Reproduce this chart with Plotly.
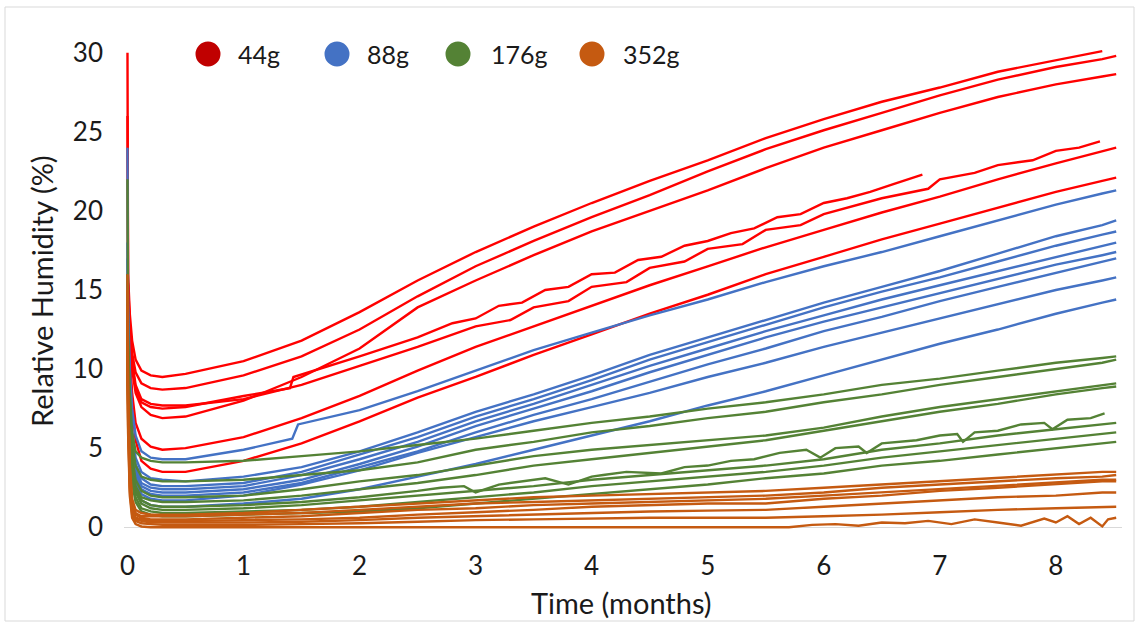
import plotly.graph_objects as go

# ---------------- data ----------------
TIME = [0, 0.005, 0.02, 0.04, 0.07, 0.12, 0.2, 0.3, 0.5, 1.0, 1.5, 2.0, 2.5,
        3.0, 3.5, 4.0, 4.5, 5.0, 5.5, 6.0, 6.5, 7.0, 7.5, 8.0, 8.4, 8.52]

# 44 g sensors
R1 = [30, 16, 13.5, 11.8, 10.6, 9.9, 9.6, 9.5, 9.7, 10.5, 11.8, 13.6, 15.6, 17.4, 19.0, 20.5, 21.9, 23.2, 24.6, 25.8, 26.9, 27.8, 28.8, 29.5, 30.1, None]
R2 = [26, 15.5, 12.8, 11.0, 9.8, 9.1, 8.8, 8.7, 8.8, 9.6, 10.8, 12.5, 14.6, 16.5, 18.1, 19.6, 21.0, 22.5, 23.9, 25.1, 26.2, 27.3, 28.3, 29.1, 29.6, 29.8]
R3 = [16, 15, 12, 10.0, 8.5, 7.6, 7.1, 6.9, 7.0, 8.0, 9.5, 11.3, 13.9, 15.6, 17.2, 18.7, 20.0, 21.3, 22.7, 24.0, 25.1, 26.2, 27.2, 28.0, 28.5, 28.65]
R6 = [15, 14, 11, 8.5, 6.6, 5.6, 5.1, 4.9, 5.0, 5.7, 6.9, 8.3, 9.9, 11.4, 12.7, 14.0, 15.3, 16.5, 17.7, 18.8, 19.9, 20.9, 22.0, 23.0, 23.8, 24.0]
R7 = [14, 13, 10, 7.5, 5.5, 4.2, 3.7, 3.5, 3.5, 4.2, 5.3, 6.7, 8.2, 9.5, 10.9, 12.2, 13.5, 14.7, 16.0, 17.1, 18.2, 19.2, 20.2, 21.2, 21.9, 22.1]
R4_TIME = [0, 0.005, 0.02, 0.04, 0.07, 0.12, 0.2, 0.3, 0.5, 1.0, 1.5, 2.0, 2.5, 3.0, 3.3, 3.5, 3.8, 4.0, 4.3, 4.5, 4.8, 5.0, 5.3, 5.5, 5.8, 6.0, 6.5, 6.9, 7.0, 7.3, 7.5, 7.8, 8.0, 8.2, 8.38]
R4 = [16, 15, 12.5, 10.5, 9.0, 8.1, 7.8, 7.7, 7.7, 8.1, 9.0, 10.2, 11.4, 12.7, 13.1, 13.9, 14.3, 15.2, 15.5, 16.4, 16.8, 17.6, 17.9, 18.8, 19.1, 19.8, 20.8, 21.4, 22.0, 22.4, 22.9, 23.2, 23.8, 24.0, 24.4]
R5_TIME = [0, 0.005, 0.02, 0.04, 0.07, 0.12, 0.2, 0.3, 0.5, 1.0, 1.4, 1.43, 2.0, 2.5, 2.8, 3.0, 3.2, 3.4, 3.6, 3.8, 4.0, 4.2, 4.4, 4.6, 4.8, 5.0, 5.2, 5.4, 5.6, 5.8, 6.0, 6.2, 6.4, 6.6, 6.85]
R5 = [16, 15, 12.3, 10.3, 8.8, 7.9, 7.6, 7.5, 7.6, 8.3, 8.8, 9.5, 10.8, 12.0, 12.9, 13.2, 14.0, 14.2, 15.0, 15.2, 16.0, 16.1, 16.9, 17.1, 17.8, 18.1, 18.6, 18.9, 19.6, 19.8, 20.5, 20.8, 21.2, 21.7, 22.3]

# 88 g sensors
B1_TIME = [0, 0.005, 0.02, 0.04, 0.07, 0.12, 0.2, 0.3, 0.5, 1.0, 1.42, 1.47, 2.0, 2.5,
           3.0, 3.5, 4.0, 4.5, 5.0, 5.5, 6.0, 6.5, 7.0, 7.5, 8.0, 8.4, 8.52]
B1 = [24, 14, 10, 7.5, 5.8, 4.8, 4.4, 4.3, 4.3, 4.9, 5.6, 6.5, 7.4, 8.6, 9.9, 11.2, 12.3, 13.4, 14.4, 15.5, 16.5, 17.4, 18.4, 19.4, 20.4, 21.1, 21.3]
B2 = [18, 13, 9, 6.2, 4.4, 3.5, 3.1, 3.0, 2.9, 3.2, 3.8, 4.8, 6.0, 7.3, 8.4, 9.6, 10.9, 12.0, 13.1, 14.2, 15.2, 16.2, 17.3, 18.4, 19.1, 19.4]
B3 = [17, 12.5, 8.6, 5.8, 4.0, 3.1, 2.7, 2.6, 2.6, 2.8, 3.5, 4.6, 5.7, 7.0, 8.1, 9.3, 10.6, 11.7, 12.8, 13.9, 14.9, 15.8, 16.8, 17.8, 18.5, 18.7]
B4 = [16, 12, 8.2, 5.4, 3.7, 2.8, 2.5, 2.4, 2.4, 2.6, 3.3, 4.3, 5.4, 6.7, 7.8, 9.0, 10.2, 11.3, 12.4, 13.4, 14.4, 15.3, 16.2, 17.1, 17.8, 18.0]
B5 = [15, 11.5, 7.8, 5.1, 3.5, 2.6, 2.3, 2.2, 2.2, 2.4, 3.0, 4.0, 5.1, 6.4, 7.5, 8.6, 9.8, 10.9, 12.0, 13.0, 13.9, 14.8, 15.7, 16.6, 17.2, 17.4]
B6 = [15, 11, 7.4, 4.8, 3.2, 2.4, 2.1, 2.0, 2.0, 2.2, 2.8, 3.8, 4.8, 6.0, 7.1, 8.1, 9.2, 10.3, 11.3, 12.4, 13.3, 14.3, 15.2, 16.1, 16.8, 17.0]
B7 = [14, 10.5, 7.0, 4.4, 2.9, 2.1, 1.8, 1.7, 1.7, 2.0, 2.7, 3.6, 4.7, 5.7, 6.7, 7.6, 8.5, 9.5, 10.4, 11.4, 12.3, 13.2, 14.1, 15.0, 15.6, 15.8]
B8 = [14, 10, 6.5, 4.0, 2.5, 1.7, 1.4, 1.3, 1.3, 1.5, 1.8, 2.4, 3.2, 4.0, 4.9, 5.8, 6.7, 7.7, 8.6, 9.6, 10.6, 11.6, 12.5, 13.5, 14.2, 14.4]

# 176 g sensors
G1 = [22, 12, 8.5, 6.0, 4.8, 4.4, 4.2, 4.1, 4.1, 4.2, 4.5, 4.8, 5.2, 5.6, 6.1, 6.6, 7.0, 7.5, 7.9, 8.4, 9.0, 9.4, 9.9, 10.4, 10.7, 10.8]
G2 = [16, 11.5, 8.0, 5.3, 3.9, 3.2, 3.0, 2.9, 2.9, 3.0, 3.3, 3.6, 4.1, 4.9, 5.4, 6.0, 6.4, 6.9, 7.3, 7.9, 8.4, 9.0, 9.5, 10.0, 10.4, 10.6]
G3 = [15, 10.5, 7.0, 4.5, 3.0, 2.3, 2.0, 1.9, 1.9, 2.0, 2.4, 2.9, 3.3, 3.9, 4.5, 4.9, 5.2, 5.5, 5.8, 6.3, 7.0, 7.6, 8.1, 8.6, 9.0, 9.1]
G4 = [14, 10, 6.5, 4.0, 2.6, 1.9, 1.7, 1.6, 1.6, 1.7, 2.0, 2.4, 2.8, 3.3, 3.9, 4.3, 4.7, 5.1, 5.5, 6.1, 6.7, 7.3, 7.8, 8.4, 8.8, 8.9]
G6 = [13, 9, 6.0, 3.5, 2.2, 1.5, 1.2, 1.1, 1.1, 1.2, 1.4, 1.7, 2.0, 2.3, 2.6, 3.0, 3.3, 3.6, 3.9, 4.3, 4.9, 5.3, 5.8, 6.2, 6.5, 6.6]
G7 = [12, 8.5, 5.5, 3.1, 1.9, 1.2, 1.0, 0.9, 0.9, 1.0, 1.1, 1.3, 1.6, 1.9, 2.2, 2.6, 2.9, 3.2, 3.5, 3.9, 4.4, 4.8, 5.2, 5.6, 5.9, 6.0]
G8 = [11, 8, 5.0, 2.8, 1.6, 1.0, 0.8, 0.7, 0.7, 0.8, 0.9, 1.0, 1.2, 1.5, 1.8, 2.1, 2.4, 2.7, 3.1, 3.4, 3.9, 4.2, 4.6, 5.0, 5.3, 5.4]
G5_POINTS = [(0, 13), (0.005, 9.5), (0.02, 6.3), (0.04, 3.8), (0.07, 2.4), (0.12, 1.7), (0.2, 1.4),
             (0.3, 1.3), (0.5, 1.3), (1.0, 1.4), (1.5, 1.6), (2.0, 1.9), (2.5, 2.3), (2.7, 2.5),
             (2.9, 2.6), (3.0, 2.2), (3.2, 2.7), (3.4, 2.9), (3.6, 3.1), (3.8, 2.7), (4.0, 3.2),
             (4.1, 3.3), (4.3, 3.5), (4.6, 3.4), (4.8, 3.8), (5.0, 3.9), (5.2, 4.2), (5.4, 4.3),
             (5.62, 4.7), (5.85, 4.9), (5.97, 4.4), (6.1, 5.0), (6.3, 5.1), (6.37, 4.7), (6.5, 5.3),
             (6.8, 5.5), (7.0, 5.8), (7.15, 5.9), (7.2, 5.4), (7.3, 6.0), (7.5, 6.1), (7.7, 6.5),
             (7.9, 6.6), (7.97, 6.2), (8.1, 6.8), (8.3, 6.9), (8.42, 7.2)]

# 352 g sensors
O1 = [16, 9, 4, 1.8, 1.1, 0.9, 0.8, 0.8, 0.8, 0.9, 1.1, 1.3, 1.5, 1.7, 1.9, 2.0, 2.1, 2.2, 2.3, 2.5, 2.7, 2.9, 3.1, 3.3, 3.5, 3.5]
O2 = [15, 8.5, 3.6, 1.6, 0.9, 0.7, 0.7, 0.7, 0.7, 0.8, 0.9, 1.1, 1.3, 1.5, 1.6, 1.7, 1.8, 1.9, 2.0, 2.2, 2.5, 2.7, 2.9, 3.1, 3.2, 3.3]
O3 = [14, 8, 3.2, 1.4, 0.8, 0.6, 0.5, 0.5, 0.5, 0.6, 0.7, 0.9, 1.1, 1.2, 1.4, 1.5, 1.6, 1.7, 1.8, 2.0, 2.2, 2.4, 2.6, 2.8, 3.0, 3.0]
O4 = [13, 7.5, 3.0, 1.2, 0.6, 0.5, 0.4, 0.4, 0.4, 0.45, 0.5, 0.6, 0.8, 0.95, 1.1, 1.3, 1.4, 1.5, 1.5, 1.8, 2.0, 2.3, 2.5, 2.7, 2.9, 2.9]
O5 = [12, 7, 2.6, 1.0, 0.5, 0.4, 0.3, 0.3, 0.3, 0.3, 0.35, 0.45, 0.6, 0.7, 0.8, 0.9, 1.0, 1.05, 1.1, 1.3, 1.5, 1.7, 1.9, 2.0, 2.2, 2.2]
O6 = [11, 6.5, 2.3, 0.8, 0.4, 0.25, 0.2, 0.15, 0.15, 0.15, 0.2, 0.25, 0.35, 0.45, 0.5, 0.55, 0.6, 0.6, 0.6, 0.7, 0.8, 0.95, 1.1, 1.2, 1.3, 1.3]
O7_POINTS = [(0, 10), (0.005, 6), (0.02, 2.0), (0.04, 0.6), (0.07, 0.2), (0.12, 0.05), (0.2, 0),
             (0.3, 0), (5.7, 0), (5.9, 0.15), (6.1, 0.2), (6.3, 0.1), (6.5, 0.3), (6.7, 0.25),
             (6.9, 0.4), (7.1, 0.2), (7.3, 0.5), (7.5, 0.3), (7.7, 0.1), (7.9, 0.55), (8.0, 0.3),
             (8.1, 0.7), (8.2, 0.2), (8.3, 0.6), (8.4, 0.05), (8.45, 0.5), (8.52, 0.6)]

GROUPS = ["44g", "88g", "176g", "352g"]
LINE_COLORS = ["#FF0000", "#4472C4", "#548235", "#C55A11"]
LEGEND_COLORS = ["#C00000", "#4472C4", "#548235", "#C55A11"]
X_TICKS = [0, 1, 2, 3, 4, 5, 6, 7, 8]
Y_TICKS = [0, 5, 10, 15, 20, 25, 30]

# ---------------- figure ----------------
G5_TIME = [p[0] for p in G5_POINTS]
G5 = [p[1] for p in G5_POINTS]
O7_TIME = [p[0] for p in O7_POINTS]
O7 = [p[1] for p in O7_POINTS]

series = [
    (0, TIME, R1), (0, TIME, R2), (0, TIME, R3), (0, R4_TIME, R4), (0, R5_TIME, R5), (0, TIME, R6), (0, TIME, R7),
    (1, B1_TIME, B1), (1, TIME, B2), (1, TIME, B3), (1, TIME, B4), (1, TIME, B5), (1, TIME, B6), (1, TIME, B7), (1, TIME, B8),
    (2, TIME, G1), (2, TIME, G2), (2, TIME, G3), (2, TIME, G4), (2, G5_TIME, G5), (2, TIME, G6), (2, TIME, G7), (2, TIME, G8),
    (3, TIME, O1), (3, TIME, O2), (3, TIME, O3), (3, TIME, O4), (3, TIME, O5), (3, TIME, O6), (3, O7_TIME, O7),
]

fig = go.Figure()
for gi, xs, ys in series:
    fig.add_trace(go.Scatter(
        x=xs, y=ys, mode="lines", name=GROUPS[gi], showlegend=False,
        line=dict(color=LINE_COLORS[gi], width=2.4), connectgaps=False,
        hoverinfo="skip",
    ))

W, H = 1139, 625
ML, MR, MT, MB = 124, 17, 48, 93
FONT = "Lato, 'Open Sans', sans-serif"

leg_circle_px = [208, 337, 458, 592]
leg_text_px = [236, 365, 489, 621]
leg_y_px = 54
pw = W - ML - MR
ph = H - MT - MB


def px_to_paper_x(px):
    return (px - ML) / pw


def px_to_paper_y(py):
    return (H - MB - py) / ph


shapes = []
annotations = []
for i, g in enumerate(GROUPS):
    shapes.append(dict(
        type="circle", xref="paper", yref="paper",
        xsizemode="pixel", ysizemode="pixel",
        xanchor=px_to_paper_x(leg_circle_px[i]), yanchor=px_to_paper_y(leg_y_px),
        x0=-12.5, x1=12.5, y0=-12.5, y1=12.5,
        fillcolor=LEGEND_COLORS[i], line=dict(width=0),
    ))
    annotations.append(dict(
        text=g, xref="paper", yref="paper",
        x=px_to_paper_x(leg_text_px[i]), y=px_to_paper_y(leg_y_px),
        xanchor="left", yanchor="middle", showarrow=False,
        font=dict(family=FONT, size=25, color="#1a1a1a"),
    ))

shapes.append(dict(
    type="rect", xref="paper", yref="paper",
    x0=px_to_paper_x(5), x1=px_to_paper_x(1134),
    y0=px_to_paper_y(621), y1=px_to_paper_y(7),
    line=dict(color="#d9d9d9", width=1), fillcolor="rgba(0,0,0,0)", layer="below",
))

annotations.append(dict(
    text="Relative Humidity (%)", xref="paper", yref="paper",
    x=px_to_paper_x(41), y=px_to_paper_y(291), textangle=-90,
    xanchor="center", yanchor="middle", showarrow=False,
    font=dict(family=FONT, size=29, color="#1a1a1a"),
))
annotations.append(dict(
    text="Time (months)", xref="paper", yref="paper",
    x=px_to_paper_x(621), y=px_to_paper_y(602),
    xanchor="center", yanchor="middle", showarrow=False,
    font=dict(family=FONT, size=29, color="#1a1a1a"),
))

fig.update_layout(
    width=W, height=H,
    margin=dict(l=ML, r=MR, t=MT, b=MB, autoexpand=False),
    paper_bgcolor="white", plot_bgcolor="white",
    showlegend=False,
    shapes=shapes, annotations=annotations,
    font=dict(family=FONT, color="#1a1a1a"),
)
fig.update_xaxes(
    range=[-0.03, 8.57], tickvals=X_TICKS, ticktext=[str(v) for v in X_TICKS],
    showgrid=False, zeroline=False, showline=False, ticks="",
    tickfont=dict(family=FONT, size=26, color="#1a1a1a"),
    ticklabelstandoff=16,
)
fig.update_yaxes(
    range=[-0.3, 30.3], tickvals=Y_TICKS, ticktext=[str(v) for v in Y_TICKS],
    showgrid=False, zeroline=True, zerolinecolor="#d9d9d9", zerolinewidth=1,
    showline=False, ticks="",
    tickfont=dict(family=FONT, size=26, color="#1a1a1a"),
    ticklabelstandoff=20,
)

fig.write_html(
    "out.html",
    config={"displayModeBar": False},
    post_script="document.body.style.margin='0px'; document.body.style.overflow='hidden';",
)
